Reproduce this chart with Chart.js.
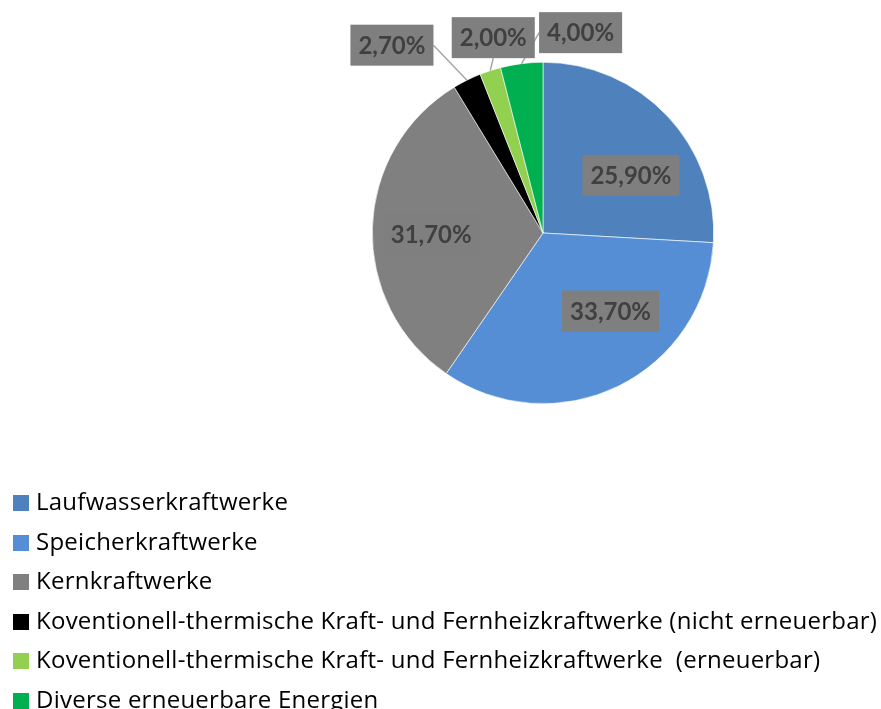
<!DOCTYPE html>
<html>
<head>
<meta charset="utf-8">
<script src="https://cdn.jsdelivr.net/npm/chart.js@4"></script>
<style>
  body { margin: 0; background: #fff; }
  #wrap { position: relative; width: 881px; height: 709px; }
  #legend { position: absolute; left: 13px; top: 481px; font-family: "Open Sans", "Noto Sans", sans-serif; font-size: 24px; letter-spacing: 0.25px; color: #000; }
  #legend div { height: 39.6px; line-height: 39.6px; white-space: pre; }
  #legend span { display: inline-block; width: 16px; height: 16px; margin-right: 7px; vertical-align: -1px; }
</style>
</head>
<body>
<div id="wrap">
  <canvas id="pieChart" width="881" height="709"></canvas>
  <div id="legend"></div>
</div>
<script>
const categories = [
  "Laufwasserkraftwerke",
  "Speicherkraftwerke",
  "Kernkraftwerke",
  "Koventionell-thermische Kraft- und Fernheizkraftwerke (nicht erneuerbar)",
  "Koventionell-thermische Kraft- und Fernheizkraftwerke  (erneuerbar)",
  "Diverse erneuerbare Energien"
];
const shares = [25.9, 33.7, 31.7, 2.7, 2.0, 4.0];
const colors = ["#4f81bd", "#558ed5", "#808080", "#000000", "#92d050", "#00b050"];

// label placement: inside labels sit at 0.62 of the radius, outside ones at the rim, then nudged
const labelOutside = [false, false, false, true, true, true];
const labelShift = [[11, 15], [21, -17], [-6, 4], [-75, -35], [3, -33], [59, -31]];

// legend as html, one item per line
const legendEl = document.getElementById("legend");
categories.forEach((name, i) => {
  const row = document.createElement("div");
  const box = document.createElement("span");
  box.style.background = colors[i];
  row.appendChild(box);
  row.appendChild(document.createTextNode(name));
  legendEl.appendChild(row);
});

const fmt = v => v.toFixed(2).replace(".", ",") + "%";

const boxLabels = {
  id: "boxLabels",
  afterDatasetsDraw(chart) {
    const ctx = chart.ctx;
    const arcs = chart.getDatasetMeta(0).data;
    ctx.save();
    ctx.font = "bold 24px Lato, 'Noto Sans', sans-serif";
    const boxes = arcs.map((arc, i) => {
      const p = arc.getProps(["x", "y", "startAngle", "endAngle", "outerRadius"], true);
      const mid = (p.startAngle + p.endAngle) / 2;
      const r = labelOutside[i] ? p.outerRadius : p.outerRadius * 0.62;
      const ex = p.x + Math.cos(mid) * p.outerRadius;
      const ey = p.y + Math.sin(mid) * p.outerRadius;
      const cx = p.x + Math.cos(mid) * r + labelShift[i][0];
      const cy = p.y + Math.sin(mid) * r + labelShift[i][1];
      const text = fmt(shares[i]);
      const w = ctx.measureText(text).width + 16;
      const h = 41;
      return { text, cx, cy, w, h, ex, ey, outside: labelOutside[i] };
    });
    // leader lines first, boxes cover them
    ctx.strokeStyle = "#a6a6a6";
    ctx.lineWidth = 1.5;
    boxes.forEach(b => {
      if (!b.outside) return;
      let lx = b.cx, ly = b.cy;
      if (b.ex < b.cx - b.w / 2) lx = b.cx - b.w / 2;
      else if (b.ex > b.cx + b.w / 2) lx = b.cx + b.w / 2;
      else ly = b.ey > b.cy ? b.cy + b.h / 2 : b.cy - b.h / 2;
      ctx.beginPath();
      ctx.moveTo(b.ex, b.ey);
      ctx.lineTo(lx, ly);
      ctx.stroke();
    });
    boxes.forEach(b => {
      ctx.fillStyle = "#7f7f7f";
      ctx.fillRect(b.cx - b.w / 2, b.cy - b.h / 2, b.w, b.h);
      ctx.fillStyle = "#404040";
      ctx.textAlign = "center";
      ctx.textBaseline = "middle";
      ctx.fillText(b.text, b.cx, b.cy + 1);
    });
    ctx.restore();
  }
};

new Chart(document.getElementById("pieChart"), {
  type: "pie",
  data: {
    labels: categories,
    datasets: [{
      data: shares,
      backgroundColor: colors,
      borderColor: "#ffffff",
      borderWidth: 0.6
    }]
  },
  options: {
    responsive: false,
    animation: false,
    layout: { padding: { left: 372, right: 167, top: 62, bottom: 305 } },
    plugins: {
      legend: { display: false },
      tooltip: { enabled: false }
    }
  },
  plugins: [boxLabels]
});
</script>
</body>
</html>
